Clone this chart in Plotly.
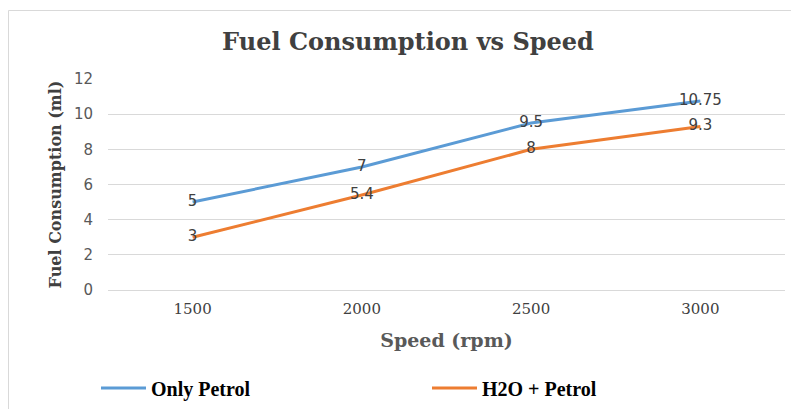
import plotly.graph_objects as go

speeds = ["1500", "2000", "2500", "3000"]
only_petrol = [5, 7, 9.5, 10.75]
h2o_petrol = [3, 5.4, 8, 9.3]
y_ticks = [0, 2, 4, 6, 8, 10, 12]

W, H = 791, 409
L, R, T, B = 108, 6, 79, 119
pw, ph = W - L - R, H - T - B

serif = "DejaVu Serif, serif"
times = "Liberation Serif, Times New Roman, serif"
sans = "DejaVu Sans, sans-serif"

fig = go.Figure()
fig.add_trace(go.Scatter(
    x=speeds, y=only_petrol, name="<b>Only Petrol</b>", mode="lines+text",
    line=dict(color="#5B9BD5", width=3),
    text=[str(v) for v in only_petrol], textposition="middle center",
    textfont=dict(family=sans, size=15, color="#404040"),
))
fig.add_trace(go.Scatter(
    x=speeds, y=h2o_petrol, name="<b>H2O + Petrol</b>", mode="lines+text",
    line=dict(color="#ED7D31", width=3),
    text=[str(v) for v in h2o_petrol], textposition="middle center",
    textfont=dict(family=sans, size=15, color="#404040"),
))

fig.update_layout(
    width=W, height=H,
    margin=dict(l=L, r=R, t=T, b=B, autoexpand=False),
    paper_bgcolor="white", plot_bgcolor="white",
    title=dict(text="<b>Fuel Consumption vs Speed</b>", x=408 / W, xanchor="center",
               y=1 - 42 / H, yanchor="middle",
               font=dict(family=serif, size=24, color="#404040")),
    xaxis=dict(
        type="category", range=[-0.5, 3.5], showgrid=False, showline=False,
        ticks="", automargin=False, ticklabelstandoff=8,
        tickfont=dict(family=serif, size=15, color="#404040"),
        title=dict(text="<b>Speed (rpm)</b>", font=dict(family=serif, size=19, color="#595959"),
                   standoff=16),
    ),
    yaxis=dict(
        range=[0, 12], tickvals=y_ticks, showgrid=True, gridcolor="#d9d9d9", gridwidth=1,
        zeroline=True, zerolinecolor="#d9d9d9", zerolinewidth=1,
        showline=False, ticks="", ticklabelstandoff=14, automargin=False,
        tickfont=dict(family=sans, size=15, color="#595959"),
        title=dict(text="<b>Fuel Consumption (ml)</b>", font=dict(family=serif, size=16, color="#404040"),
                   standoff=8),
    ),
    legend=dict(
        orientation="h", xref="container", yref="container",
        x=96 / W, xanchor="left",
        y=1 - 388 / H, yanchor="middle",
        itemwidth=45,
        entrywidth=271, entrywidthmode="pixels",
        font=dict(family=times, size=20, color="#000000"),
        bgcolor="rgba(0,0,0,0)",
    ),
    showlegend=True,
    shapes=[dict(
        type="rect", xref="paper", yref="paper",
        x0=(8.5 - L) / pw, x1=(W + 5 - L) / pw,
        y0=-(H + 5 - T - ph) / ph, y1=1 + (T - 10.5) / ph,
        line=dict(color="#d9d9d9", width=1), fillcolor="rgba(0,0,0,0)", layer="below",
    )],
)

fig.write_html("out.html", config={"displayModeBar": False})
with open("out.html", "r", encoding="utf-8") as f:
    html = f.read()
html = html.replace("<body>", '<body style="margin:0;overflow:hidden;">', 1)
with open("out.html", "w", encoding="utf-8") as f:
    f.write(html)
